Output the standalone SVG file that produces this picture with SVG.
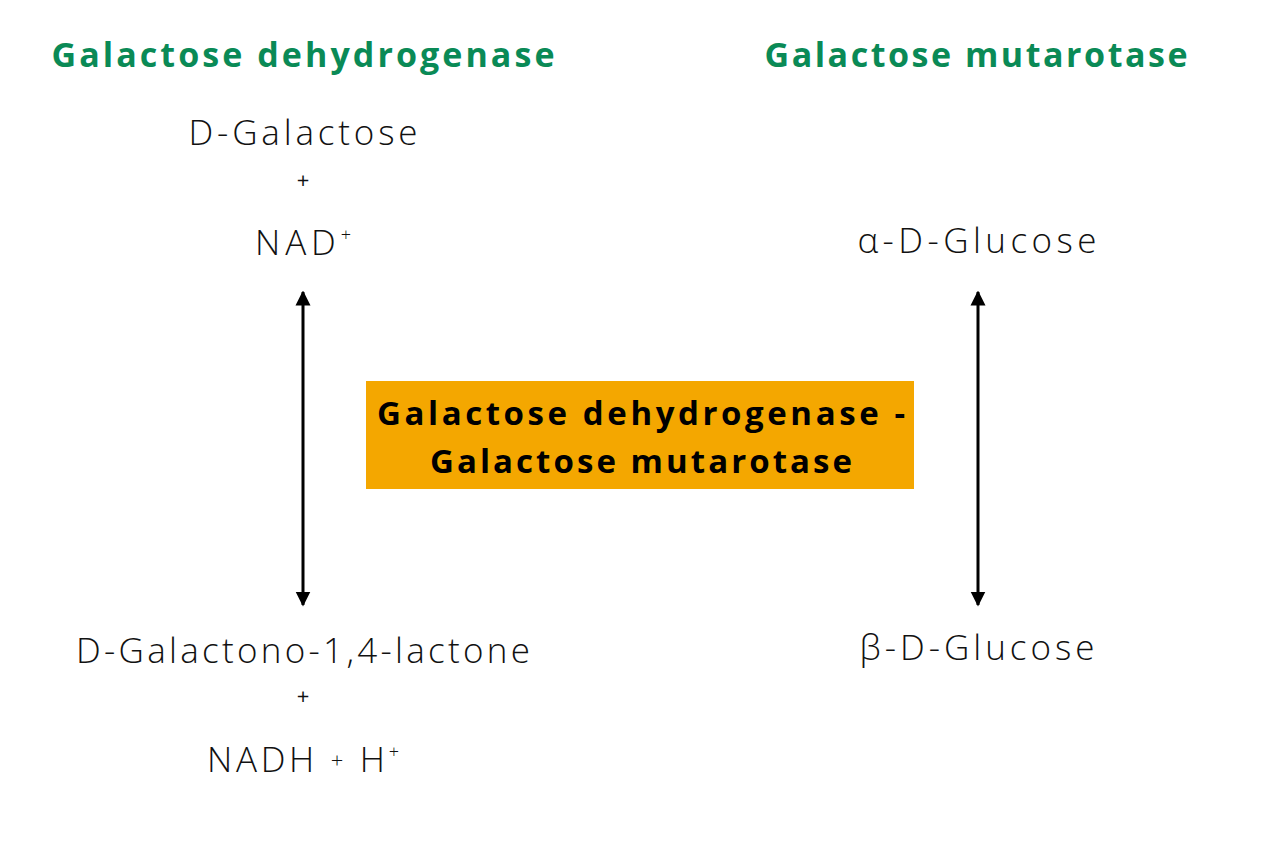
<svg xmlns="http://www.w3.org/2000/svg" width="1280" height="853" viewBox="0 0 1280 853">
<style>
.title{font-family:"Open Sans",Lato,"Liberation Sans",sans-serif;font-weight:700;font-size:34px;fill:#0a8a56;text-anchor:middle}
.chem{font-family:"Open Sans",Lato,"Liberation Sans",sans-serif;font-weight:300;font-size:35px;fill:#111;text-anchor:middle}
.plus{font-family:"Open Sans",Lato,"Liberation Sans",sans-serif;font-weight:400;font-size:22px;fill:#111;text-anchor:middle}
.box{font-family:"Open Sans",Lato,"Liberation Sans",sans-serif;font-weight:700;font-size:33px;fill:#000;text-anchor:middle}
.sup{font-size:18px}
.conn{stroke:#000;stroke-width:3;fill:none;marker-start:url(#ah);marker-end:url(#ah)}
</style>
<defs>
<marker id="ah" viewBox="0 0 10 10" refX="9" refY="5" markerWidth="5" markerHeight="7" markerUnits="strokeWidth" orient="auto-start-reverse">
<path d="M0,0 L10,5 L0,10 Z" fill="#000"/>
</marker>
</defs>
<rect width="1280" height="853" fill="#fff"/>
<g id="title-left"><text class="title" x="303" y="67" textLength="503" lengthAdjust="spacing">Galactose dehydrogenase</text></g>
<g id="title-right"><text class="title" x="976" y="67" textLength="423" lengthAdjust="spacing">Galactose mutarotase</text></g>
<g id="substrates-left">
<text class="chem" x="303" y="145" textLength="229" lengthAdjust="spacing">D-Galactose</text>
<text class="plus" x="303" y="188">+</text>
<text class="chem" x="303" y="255" textLength="96" lengthAdjust="spacing">NAD<tspan class="sup" dy="-14">+</tspan></text>
</g>
<g id="products-left">
<text class="chem" x="303" y="663" textLength="454" lengthAdjust="spacing">D-Galactono-1,4-lactone</text>
<text class="plus" x="303" y="704">+</text>
<text class="chem" x="303" y="772" textLength="192" lengthAdjust="spacing">NADH <tspan font-size="22px" dy="-4">+</tspan><tspan dy="4"> H</tspan><tspan class="sup" dy="-14">+</tspan></text>
</g>
<g id="alpha"><text class="chem" x="977" y="253" textLength="239" lengthAdjust="spacing">α-D-Glucose</text></g>
<g id="beta"><text class="chem" x="977" y="660" textLength="235" lengthAdjust="spacing">β-D-Glucose</text></g>
<g id="center-box">
<rect x="366" y="381" width="548" height="108" fill="#f4a700"/>
<text class="box" x="641" y="425" textLength="528" lengthAdjust="spacing">Galactose dehydrogenase -</text>
<text class="box" x="641" y="473" textLength="422" lengthAdjust="spacing">Galactose mutarotase</text>
</g>
<g id="connectors">
<line class="conn" x1="303" y1="292" x2="303" y2="605"/>
<line class="conn" x1="978" y1="292" x2="978" y2="605"/>
</g>
</svg>
